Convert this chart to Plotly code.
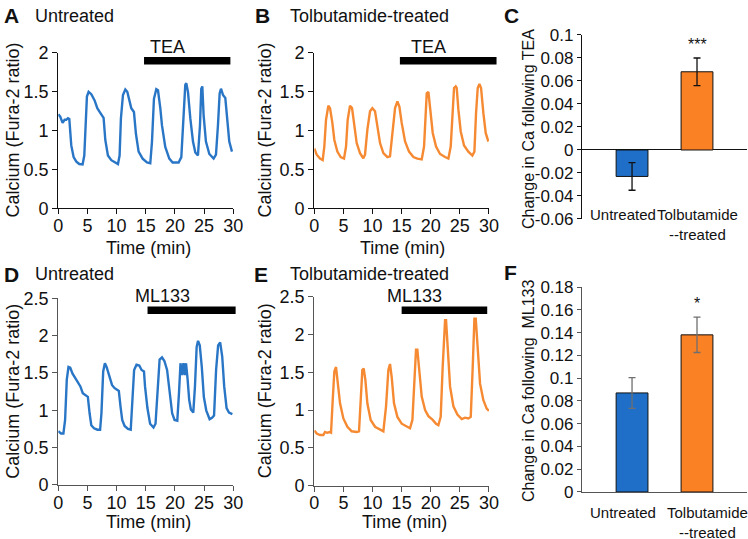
import plotly.graph_objects as go
from plotly.subplots import make_subplots

FONT = "Liberation Sans, Arial, Helvetica, sans-serif"
BLUE_LINE = "#2a76c6"
ORANGE_LINE = "#f68a33"
BLUE_BAR = "#1f6fc8"
ORANGE_BAR = "#fb8125"

# --- A: untreated, TEA (time in min, Fura-2 ratio) ---
tea_untreated_t = [
    0, 0.34, 0.74, 1.09, 1.37, 1.66, 1.89, 2.0, 2.23, 2.63,
    3.1, 3.6, 4.17, 4.46, 4.63, 4.91, 5.2, 5.66, 6.23, 6.69,
    7.2, 7.77, 8.06, 8.51, 9.09, 9.77, 10.23, 10.51, 10.74, 11.09,
    11.49, 11.83, 12.17, 12.51, 12.97, 13.31, 13.77, 14.46, 15.2, 15.77,
    16.06, 16.4, 16.8, 17.09, 17.49, 17.77, 18.34, 19.03, 19.6, 20.06,
    20.63, 21.09, 21.49, 21.77, 21.94, 22.23, 22.63, 23.09, 23.49, 23.94,
    24.29, 24.51, 24.69, 24.91, 25.31, 25.89, 26.63, 27.03, 27.37, 27.66,
    27.89, 28.23, 28.63, 28.91, 29.31, 29.77,
]
tea_untreated_ratio = [
    1.21, 1.18, 1.10, 1.14, 1.14, 1.16, 1.15, 0.985, 0.81, 0.66,
    0.60, 0.57, 0.565, 0.68, 1.07, 1.44, 1.50, 1.47, 1.39, 1.29,
    1.23, 1.165, 0.88, 0.68, 0.62, 0.59, 0.57, 0.68, 1.16, 1.46,
    1.53, 1.50, 1.39, 1.29, 1.24, 0.96, 0.73, 0.64, 0.59, 0.58,
    0.855, 1.41, 1.535, 1.52, 1.29, 1.07, 0.79, 0.64, 0.59, 0.59,
    0.59, 0.66, 1.16, 1.59, 1.61, 1.50, 1.16, 0.86, 0.72, 0.68,
    1.07, 1.54, 1.57, 1.20, 0.86, 0.70, 0.64, 0.69, 1.07, 1.48,
    1.54, 1.46, 1.42, 1.16, 0.86, 0.73,
]

# --- B: tolbutamide-treated, TEA ---
tea_tolb_t = [
    0, 0.41, 0.98, 1.44, 1.72, 2.01, 2.41, 2.7, 3.1, 3.44,
    3.96, 4.53, 5.1, 5.45, 5.73, 6.13, 6.48, 6.82, 7.28, 7.85,
    8.42, 8.71, 9.11, 9.57, 9.97, 10.43, 10.83, 11.29, 11.86, 12.55,
    13.0, 13.46, 13.87, 14.27, 14.61, 15.01, 15.59, 16.27, 17.02, 17.7,
    18.45, 18.85, 19.14, 19.31, 19.6, 19.88, 20.34, 20.91, 21.6, 22.46,
    23.03, 23.43, 23.77, 24.0, 24.29, 24.46, 24.75, 25.15, 25.72, 26.46,
    27.15, 27.5, 27.78, 28.07, 28.36, 28.64, 29.04, 29.44, 29.9,
]
tea_tolb_ratio = [
    0.77, 0.69, 0.64, 0.62, 0.795, 1.14, 1.32, 1.29, 1.10, 0.88,
    0.73, 0.66, 0.64, 0.795, 1.14, 1.32, 1.29, 1.10, 0.84, 0.71,
    0.645, 0.69, 1.01, 1.25, 1.29, 1.25, 1.08, 0.84, 0.71, 0.66,
    0.67, 1.01, 1.29, 1.375, 1.31, 1.10, 0.86, 0.73, 0.66, 0.64,
    0.63, 0.795, 1.225, 1.48, 1.50, 1.27, 0.97, 0.795, 0.70, 0.66,
    0.64, 0.795, 1.225, 1.55, 1.57, 1.55, 1.27, 0.99, 0.81, 0.73,
    0.68, 0.73, 1.225, 1.55, 1.60, 1.55, 1.225, 0.97, 0.86,
]

# --- D: untreated, ML133 ---
ml_untreated_t = [
    0, 0.47, 0.88, 1.17, 1.46, 1.75, 2.05, 2.45, 2.92, 3.39,
    3.79, 4.2, 4.67, 5.07, 5.37, 5.66, 6.13, 6.71, 7.17, 7.4,
    7.7, 7.99, 8.28, 8.75, 9.21, 9.62, 10.38, 10.67, 10.96, 11.37,
    11.95, 12.42, 12.71, 13.0, 13.41, 13.88, 14.28, 14.69, 14.87, 15.28,
    15.74, 16.32, 16.67, 17.02, 17.37, 17.78, 18.19, 18.65, 19.06, 19.52,
    19.93, 20.4, 20.69, 20.95, 21.2, 21.45, 21.68, 21.9, 22.15, 22.44,
    22.73, 23.14, 23.43, 23.72, 23.96, 24.25, 24.6, 24.95, 25.36, 25.94,
    26.35, 26.7, 27.05, 27.4, 27.75, 28.1, 28.44, 28.85, 29.26, 29.84,
]
ml_untreated_ratio = [
    0.72, 0.69, 0.69, 0.87, 1.41, 1.58, 1.57, 1.49, 1.43, 1.36,
    1.32, 1.23, 1.20, 1.18, 0.96, 0.80, 0.76, 0.74, 0.74, 0.96,
    1.52, 1.63, 1.58, 1.45, 1.34, 1.30, 1.26, 1.05, 0.87, 0.79,
    0.75, 0.74, 1.09, 1.54, 1.61, 1.60, 1.54, 1.52, 1.32, 1.03,
    0.82, 0.77, 0.82, 1.32, 1.68, 1.71, 1.66, 1.54, 1.25, 0.96,
    0.87, 0.86, 1.23, 1.63, 1.47, 1.63, 1.47, 1.63, 1.43, 1.14,
    1.01, 0.97, 1.32, 1.85, 1.93, 1.87, 1.58, 1.18, 1.0, 0.88,
    0.90, 0.93, 1.54, 1.87, 1.91, 1.72, 1.32, 1.03, 0.97, 0.95,
]

# --- E: tolbutamide-treated, ML133 ---
ml_tolb_t = [
    0, 0.41, 0.98, 1.55, 1.84, 2.24, 2.58, 2.87, 3.16, 3.44,
    3.73, 4.01, 4.42, 4.99, 5.68, 6.42, 7.28, 7.68, 7.97, 8.25,
    8.48, 8.77, 9.11, 9.68, 10.43, 11.29, 11.86, 12.32, 12.72, 13.0,
    13.29, 13.69, 14.27, 15.01, 15.87, 16.44, 16.85, 17.19, 17.47, 17.7,
    17.99, 18.45, 19.03, 19.6, 20.34, 20.91, 21.31, 21.71, 22.05, 22.46,
    22.63, 22.92, 23.32, 23.89, 24.58, 25.32, 25.89, 26.46, 26.87, 27.21,
    27.5, 27.73, 28.07, 28.47, 29.04, 29.61, 30.0,
]
ml_tolb_ratio = [
    0.73, 0.69, 0.67, 0.67, 0.71, 0.70, 0.71, 0.70, 1.13, 1.51,
    1.57, 1.40, 1.09, 0.89, 0.78, 0.72, 0.71, 0.72, 1.13, 1.53,
    1.55, 1.40, 1.09, 0.87, 0.78, 0.74, 0.72, 1.05, 1.53, 1.61,
    1.44, 1.09, 0.91, 0.82, 0.78, 0.76, 0.87, 1.44, 1.80, 1.80,
    1.57, 1.18, 1.0, 0.92, 0.87, 0.82, 0.80, 0.91, 1.57, 2.19,
    2.19, 1.79, 1.31, 1.05, 0.94, 0.88, 0.90, 0.89, 0.91, 1.57,
    2.21, 2.21, 1.75, 1.35, 1.13, 1.02, 0.99,
]

# drug application bars: (start, end, level) in data units
tea_bar_untreated = (14.7, 29.5, 1.9)
tea_bar_tolb = (14.7, 31.3, 1.9)
ml_bar_untreated = (15.3, 30.4, 2.34)
ml_bar_tolb = (15.0, 29.7, 2.32)

# --- C / F: summary bars ---
groups = ["Untreated", "Tolbutamide-treated"]
group_labels = ["Untreated", "Tolbutamide<br>--treated"]
tea_change = [-0.023, 0.068]
tea_sem = [0.012, 0.012]
ml_change = [0.087, 0.138]
ml_sem = [0.0135, 0.0155]
tea_stars = ["", "***"]
ml_stars = ["", "*"]

time_ticks = [0, 5, 10, 15, 20, 25, 30]
tea_ticks = [-0.06, -0.04, -0.02, 0, 0.02, 0.04, 0.06, 0.08, 0.1]
tea_tick_text = ["-0.06", "-0.04", "-0.02", "0", "0.02", "0.04", "0.06", "0.08", "0.1"]
ml_ticks = [0, 0.02, 0.04, 0.06, 0.08, 0.1, 0.12, 0.14, 0.16, 0.18]
ml_tick_text = ["0", "0.02", "0.04", "0.06", "0.08", "0.1", "0.12", "0.14", "0.16", "0.18"]

W, H = 748, 539

fig = make_subplots(rows=2, cols=3)

line_panels = [
    (1, 1, tea_untreated_t, tea_untreated_ratio, BLUE_LINE),
    (1, 2, tea_tolb_t, tea_tolb_ratio, ORANGE_LINE),
    (2, 1, ml_untreated_t, ml_untreated_ratio, BLUE_LINE),
    (2, 2, ml_tolb_t, ml_tolb_ratio, ORANGE_LINE),
]
for r, c, t, v, col in line_panels:
    fig.add_trace(
        go.Scatter(x=t, y=v, mode="lines", line=dict(color=col, width=2.4),
                   showlegend=False, hoverinfo="skip"),
        row=r, col=c,
    )

for r, vals, sem, ecol in [(1, tea_change, tea_sem, "#111"), (2, ml_change, ml_sem, "#6f6f6f")]:
    fig.add_trace(
        go.Bar(
            x=groups, y=vals, width=0.49,
            marker=dict(color=[BLUE_BAR, ORANGE_BAR], line=dict(color="#111", width=1)),
            error_y=dict(type="data", array=sem, color=ecol, thickness=1.3, width=3.5),
            showlegend=False, hoverinfo="skip",
        ),
        row=r, col=3,
    )

# panel domains (paper fractions)
xdom = {1: [0.0779, 0.3119], 2: [0.4202, 0.6537], 3: [0.7781, 0.9987]}
ydom = {
    (1, 1): [0.6135, 0.9017], (1, 2): [0.6135, 0.9017], (1, 3): [0.5937, 0.9351],
    (2, 1): [0.1002, 0.4466], (2, 2): [0.0989, 0.4495], (2, 3): [0.0872, 0.4675],
}
axis_font = dict(family=FONT, size=18, color="#111")
for r in (1, 2):
    axcol = "#111" if r == 1 else "#555"
    for c in (1, 2):
        fig.update_xaxes(domain=xdom[c], range=[0, 30], tickvals=time_ticks,
                         showline=True, linecolor=axcol, linewidth=1.3,
                         ticks="outside", ticklen=5, tickcolor=axcol, ticklabelstandoff=-4,
                         showgrid=False, zeroline=False, tickfont=axis_font,
                         automargin=False, row=r, col=c)
        ymax = 2 if r == 1 else 2.5
        fig.update_yaxes(domain=ydom[(r, c)], range=[0, ymax], dtick=0.5,
                         showline=True, linecolor=axcol, linewidth=1.3,
                         ticks="outside", ticklen=5, tickcolor=axcol,
                         showgrid=False, zeroline=False, tickfont=axis_font,
                         automargin=False, row=r, col=c)
    fig.update_xaxes(domain=xdom[3], range=[-0.77, 1.77], showticklabels=False,
                     showline=(r == 2), linecolor=axcol, linewidth=1.3,
                     showgrid=False, zeroline=False, automargin=False, row=r, col=3)

fig.update_yaxes(domain=ydom[(1, 3)], range=[-0.06, 0.1], tickvals=tea_ticks, ticktext=tea_tick_text,
                 showline=True, linecolor="#111", linewidth=1.3, ticks="outside", ticklen=4,
                 tickcolor="#111", showgrid=False, zeroline=True, zerolinecolor="#111",
                 zerolinewidth=1.3, tickfont=dict(family=FONT, size=17, color="#111"),
                 automargin=False, row=1, col=3)
fig.update_yaxes(domain=ydom[(2, 3)], range=[0, 0.18], tickvals=ml_ticks, ticktext=ml_tick_text,
                 showline=True, linecolor="#555", linewidth=1.3, ticks="outside", ticklen=4,
                 tickcolor="#555", showgrid=False, zeroline=False,
                 tickfont=dict(family=FONT, size=17, color="#111"),
                 automargin=False, row=2, col=3)

# drug bars + labels (drawn in axis-domain units so they may run past the axis end)
drug_bars = [("x", "y", 30, 2, tea_bar_untreated, "TEA"),
             ("x2", "y2", 30, 2, tea_bar_tolb, "TEA"),
             ("x4", "y4", 30, 2.5, ml_bar_untreated, "ML133"),
             ("x5", "y5", 30, 2.5, ml_bar_tolb, "ML133")]
for xa, ya, xmax, ymax, (t0, t1, lvl), label in drug_bars:
    fig.add_shape(type="line", xref=f"{xa} domain", yref=f"{ya} domain",
                  x0=t0 / xmax, x1=t1 / xmax, y0=lvl / ymax, y1=lvl / ymax,
                  line=dict(color="black", width=7.5))
    fig.add_annotation(text=label, xref=f"{xa} domain", yref=f"{ya} domain",
                       x=(t0 + t1) / 2 / xmax, y=lvl / ymax, yanchor="bottom", yshift=2,
                       showarrow=False, font=dict(family=FONT, size=18, color="#111"))

# category labels and significance stars on bar panels
for xa, ya, ymin, yshift, xshifts, stars, vals, sem in [
    ("x3", "y3", -0.06, 15, [-9, 0], tea_stars, tea_change, tea_sem),
    ("x6", "y6", 0, -10, [-9, 10], ml_stars, ml_change, ml_sem),
]:
    for g, lab, xs in zip(groups, group_labels, xshifts):
        fig.add_annotation(text=lab, xref=xa, yref=ya, x=g, y=ymin, yanchor="top",
                           yshift=yshift, xshift=xs, showarrow=False,
                           font=dict(family=FONT, size=15, color="#111"))
    for g, s, v, e in zip(groups, stars, vals, sem):
        if s:
            fig.add_annotation(text=s, xref=xa, yref=ya, x=g, y=v + e, yanchor="bottom",
                               yshift=3, showarrow=False,
                               font=dict(family=FONT, size=16, color="#111"))

# panel titles
titles = [
    (2, 15.5, "<b>A</b>", 21), (33, 15.5, "Untreated", 18),
    (253, 15.5, "<b>B</b>", 21), (288, 15.5, "Tolbutamide-treated", 18),
    (502, 15.0, "<b>C</b>", 21),
    (2, 274, "<b>D</b>", 21), (33, 274, "Untreated", 18),
    (252, 274, "<b>E</b>", 21), (288, 274, "Tolbutamide-treated", 18),
    (502, 273, "<b>F</b>", 21),
]
for px, py, txt, sz in titles:
    fig.add_annotation(text=txt, xref="paper", yref="paper", x=px / W, y=1 - py / H,
                       xanchor="left", yanchor="middle", showarrow=False,
                       font=dict(family=FONT, size=sz, color="#111"))

# axis titles
ytitles = [
    (13, 130.6, "Calcium (Fura-2 ratio)", 18), (265, 130.6, "Calcium (Fura-2 ratio)", 18),
    (528, 129, "Change in Ca following TEA", 16),
    (13, 391.7, "Calcium (Fura-2 ratio)", 18), (265, 391.2, "Calcium (Fura-2 ratio)", 18),
    (528, 391, "Change in Ca following\u00a0 ML133", 16),
]
for px, py, txt, sz in ytitles:
    fig.add_annotation(text=txt, xref="paper", yref="paper", x=px / W, y=1 - py / H,
                       textangle=-90, xanchor="center", yanchor="middle", showarrow=False,
                       font=dict(family=FONT, size=sz, color="#111"))
for px, py in [(148, 248), (402, 248), (148, 522), (404, 522)]:
    fig.add_annotation(text="Time (min)", xref="paper", yref="paper", x=px / W, y=1 - py / H,
                       xanchor="center", yanchor="middle", showarrow=False,
                       font=dict(family=FONT, size=18, color="#111"))

fig.update_layout(
    width=W, height=H,
    margin=dict(l=0, r=0, t=0, b=0, autoexpand=False),
    paper_bgcolor="white", plot_bgcolor="white",
    font=dict(family=FONT, color="#111"),
    showlegend=False,
)
# page body has a default 8px margin; drop it so the figure sits at the window origin
fig.write_html("out.html", config={"displayModeBar": False},
               post_script="document.body.style.margin='0';")
